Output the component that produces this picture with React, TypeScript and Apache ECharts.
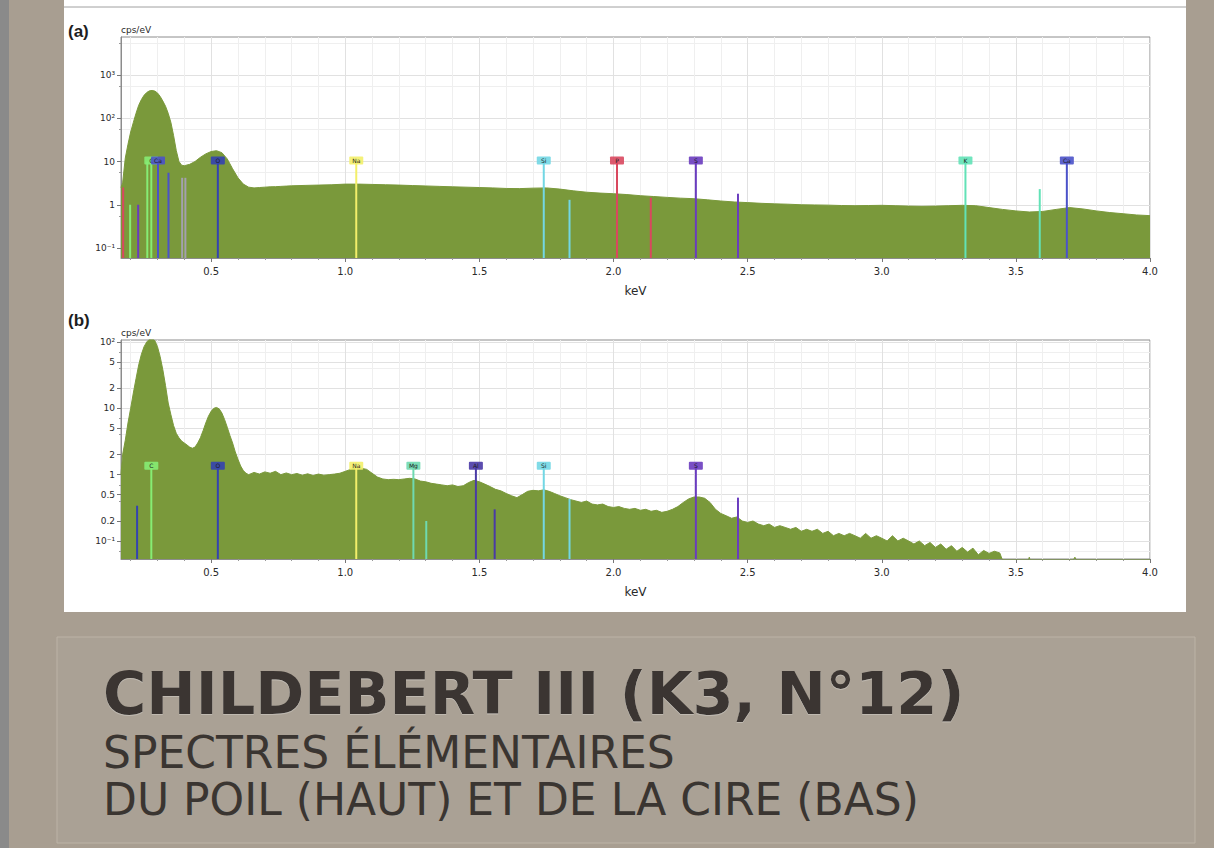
import React, { useEffect, useRef } from 'react';
import * as echarts from 'echarts';

// ---------------- data ----------------
// Spectrum (a) : poil
const energyA = [
  0.164,
  0.17, 0.18, 0.19, 0.20, 0.21, 0.22, 0.23, 0.24, 0.25, 0.26,
  0.27, 0.28, 0.29, 0.30, 0.31, 0.32, 0.33, 0.34, 0.35, 0.36,
  0.37, 0.38, 0.39, 0.40,
  0.42, 0.44, 0.46, 0.48, 0.50, 0.52, 0.54, 0.56, 0.58, 0.60,
  0.62, 0.64, 0.66, 0.68, 0.70, 0.72, 0.74, 0.76, 0.78, 0.80,
  0.85, 0.90, 0.95, 1.00,
  1.05, 1.10, 1.15, 1.20, 1.25, 1.30, 1.35, 1.40, 1.45, 1.50,
  1.55, 1.60, 1.65, 1.70, 1.75, 1.80, 1.85, 1.90, 1.95, 2.00,
  2.05, 2.10, 2.15, 2.20, 2.25, 2.30, 2.35, 2.40, 2.45, 2.50,
  2.55, 2.60, 2.65, 2.70, 2.75, 2.80, 2.85, 2.90, 2.95, 3.00,
  3.05, 3.10, 3.15, 3.20, 3.25, 3.30, 3.35, 3.40, 3.45, 3.50,
  3.55, 3.60, 3.65, 3.70, 3.75, 3.80, 3.85, 3.90, 3.95, 4.00,
];
const countsA = [
  2.5,
  3.2, 12, 25, 48, 80, 130, 200, 270, 340, 395,
  430, 440, 425, 385, 320, 250, 190, 130, 80, 40,
  18, 10, 8.2, 8,
  8.6, 10, 12.5, 15, 17, 17.8, 16, 11.5, 6.8, 4.2,
  3.0, 2.55, 2.45, 2.5, 2.55, 2.6, 2.62, 2.66, 2.7, 2.74,
  2.8, 2.85, 2.9, 3.0,
  3.0, 2.95, 2.9, 2.85, 2.78, 2.72, 2.66, 2.6, 2.55, 2.5,
  2.45, 2.38, 2.36, 2.42, 2.45, 2.3, 2.1, 1.95, 1.86, 1.8,
  1.72, 1.62, 1.55, 1.48, 1.42, 1.38, 1.3, 1.22, 1.16, 1.12,
  1.08, 1.05, 1.03, 1.0, 0.99, 0.98, 0.96, 0.95, 0.96, 0.97,
  0.95, 0.93, 0.92, 0.93, 0.95, 0.97, 0.95, 0.86, 0.78, 0.72,
  0.68, 0.7, 0.78, 0.86, 0.8, 0.72, 0.66, 0.62, 0.58, 0.56,
];

// Spectrum (b) : cire
const energyB = [
  0.164,
  0.17, 0.18, 0.19, 0.20, 0.21, 0.22, 0.23, 0.24, 0.25, 0.26,
  0.27, 0.28, 0.29, 0.30, 0.31, 0.32, 0.33, 0.34, 0.35, 0.36,
  0.37, 0.38, 0.39, 0.40, 0.41, 0.42, 0.43, 0.44, 0.45, 0.46,
  0.47, 0.48, 0.49, 0.50, 0.51, 0.52, 0.53, 0.54, 0.55, 0.56,
  0.57, 0.58, 0.59, 0.60, 0.61, 0.62, 0.63, 0.64,
  0.66, 0.68, 0.70, 0.72, 0.74, 0.76, 0.78, 0.80, 0.82, 0.84,
  0.86, 0.88, 0.90, 0.92, 0.94, 0.96, 0.98, 1.00, 1.02, 1.04,
  1.06, 1.08, 1.10, 1.12, 1.14, 1.16, 1.18, 1.20, 1.22, 1.24,
  1.26, 1.28, 1.30, 1.32, 1.34, 1.36, 1.38, 1.40, 1.42, 1.44,
  1.46, 1.48, 1.50, 1.52, 1.54, 1.56, 1.58, 1.60, 1.62, 1.64,
  1.66, 1.68, 1.70, 1.72, 1.74, 1.76, 1.78, 1.80, 1.82, 1.84,
  1.86, 1.88, 1.90, 1.92, 1.94, 1.96, 1.98, 2.00, 2.02, 2.04,
  2.06, 2.08, 2.10, 2.12, 2.14, 2.16, 2.18, 2.20, 2.22, 2.24,
  2.26, 2.28, 2.30, 2.32, 2.34, 2.36, 2.38, 2.40, 2.42, 2.44,
  2.46, 2.48, 2.50, 2.52, 2.54, 2.56, 2.58, 2.60, 2.62, 2.64,
  2.66, 2.68, 2.70, 2.72, 2.74, 2.76, 2.78, 2.80, 2.82, 2.84,
  2.86, 2.88, 2.90, 2.92, 2.94, 2.96, 2.98, 3.00, 3.02, 3.04,
  3.06, 3.08, 3.10, 3.12, 3.14, 3.16, 3.18, 3.20, 3.22, 3.24,
  3.26, 3.28, 3.30, 3.32, 3.34, 3.36, 3.38, 3.40, 3.42, 3.44,
  3.46, 3.50, 3.54, 3.55, 3.56, 3.70, 3.72, 3.74, 4.00,
];
const countsB = [
  1.0,
  2.0, 3.3, 6, 10, 17, 28, 45, 65, 85, 100,
  110, 112, 105, 85, 60, 38, 22, 12, 8, 5.5,
  4.2, 3.6, 3.2, 3.0, 2.8, 2.6, 2.5, 2.6, 3.0, 3.6,
  4.6, 6, 7.6, 9, 10, 10.3, 9.8, 8.5, 6.8, 5.2,
  3.9, 3.0, 2.2, 1.7, 1.35, 1.15, 1.05, 1.0,
  1.08, 1.02, 1.1, 1.05, 1.12, 1.0, 1.06, 1.0, 1.04, 0.98,
  1.03, 0.97, 1.02, 0.98, 1.0, 1.02, 1.05, 1.12, 1.2, 1.28,
  1.25, 1.2, 1.05, 0.92, 0.86, 0.84, 0.85, 0.84, 0.86, 0.88,
  0.86, 0.8, 0.78, 0.74, 0.72, 0.7, 0.68, 0.7, 0.66, 0.68,
  0.76, 0.82, 0.78, 0.72, 0.66, 0.6, 0.57, 0.52, 0.48, 0.45,
  0.5, 0.56, 0.58, 0.57, 0.59, 0.56, 0.52, 0.48, 0.45, 0.42,
  0.4, 0.38, 0.4, 0.36, 0.35, 0.36, 0.33, 0.32, 0.33, 0.31,
  0.3, 0.31, 0.29, 0.3, 0.28, 0.29, 0.27, 0.28, 0.3, 0.33,
  0.38, 0.43, 0.46, 0.46, 0.44, 0.38, 0.3, 0.26, 0.24, 0.22,
  0.23, 0.2, 0.19, 0.2, 0.18, 0.17, 0.18, 0.16, 0.17, 0.16,
  0.15, 0.16, 0.14, 0.15, 0.14, 0.15, 0.13, 0.14, 0.12, 0.13,
  0.12, 0.13, 0.12, 0.11, 0.13, 0.11, 0.12, 0.11, 0.1, 0.12,
  0.1, 0.11, 0.1, 0.09, 0.1, 0.085, 0.095, 0.08, 0.09, 0.075,
  0.085, 0.07, 0.08, 0.068, 0.078, 0.062, 0.072, 0.065, 0.07, 0.066,
  0.04, 0.04, 0.04, 0.057, 0.04, 0.04, 0.057, 0.04, 0.04,
];

// Element lines, spectrum (a)
const linesAEnergy = [0.172, 0.198, 0.228, 0.262, 0.277, 0.302, 0.341, 0.392, 0.404, 0.525, 1.041, 1.74, 1.836, 2.013, 2.139, 2.307, 2.464, 3.312, 3.589, 3.69];
const linesAElement = ['P', 'C', 'S', 'C', 'C', 'Ca', 'Ca', 'N', 'N', 'O', 'Na', 'Si', 'Si', 'P', 'P', 'S', 'S', 'K', 'K', 'Ca'];
const linesAHeight = [2.5, 1.0, 1.0, 10, 10, 10, 5.5, 4.2, 4.2, 10, 10, 10, 1.3, 10, 1.45, 10, 1.8, 10, 2.3, 10];
const linesALabeled = [false, false, false, false, true, true, false, false, false, true, true, true, false, true, false, true, false, true, false, true];

// Element lines, spectrum (b)
const linesBEnergy = [0.224, 0.277, 0.525, 1.041, 1.254, 1.302, 1.487, 1.557, 1.74, 1.836, 2.307, 2.464];
const linesBElement = ['O', 'C', 'O', 'Na', 'Mg', 'Mg', 'Al', 'Al', 'Si', 'Si', 'S', 'S'];
const linesBHeight = [0.34, 1.32, 1.32, 1.32, 1.32, 0.2, 1.32, 0.3, 1.32, 0.43, 1.32, 0.45];
const linesBLabeled = [false, true, true, true, true, false, true, false, true, false, true, false];

const xTicks = [0.5, 1.0, 1.5, 2.0, 2.5, 3.0, 3.5, 4.0];
const yTicksA = [0.1, 1, 10, 100, 1000];
const yTickTextA = ['10⁻¹', '1', '10', '10²', '10³'];
const yTicksB = [0.1, 0.2, 0.5, 1, 2, 5, 10, 20, 50, 100];
const yTickTextB = ['10⁻¹', '0.2', '0.5', '1', '2', '5', '10', '2', '5', '10²'];

const titleText = 'CHILDEBERT III (K3, N°12)';
const subtitle1 = 'SPECTRES ÉLÉMENTAIRES';
const subtitle2 = 'DU POIL (HAUT) ET DE LA CIRE (BAS)';

// ---------------- styles ----------------
const ELEMENT_COLORS: Record<string, string> = {
  C: '#86ec74',
  Ca: '#4b52c9',
  N: '#a3a0ae',
  O: '#3443b0',
  Na: '#f3ef6a',
  Mg: '#6fd9b0',
  Al: '#4a3aa6',
  Si: '#72d7e4',
  P: '#d9485f',
  S: '#6a3cbf',
  K: '#62e2b7',
};
const GREEN = '#7a993b';
const X_MIN = 0.164;
const X_MAX = 4.0;
const Y_A = [0.0587, 7570];
const Y_B = [0.0535, 107];

function tickFormatter(ticks: number[], texts: string[]) {
  return (v: number) => {
    const i = ticks.findIndex((t) => Math.abs(t - v) / t < 1e-3);
    return i >= 0 ? texts[i] : '';
  };
}

function markerSeries(idx: number, energies: number[], heights: number[], elements: string[], labeled: boolean[], yMin: number) {
  return {
    type: 'custom',
    xAxisIndex: idx,
    yAxisIndex: idx,
    z: 4,
    silent: true,
    data: energies.map((e, i) => [e, heights[i], i]),
    encode: { x: 0, y: 1 },
    renderItem: (_params: any, api: any) => {
      const i = api.value(2) as number;
      const e = api.value(0) as number;
      const top = api.coord([e, api.value(1)]);
      const bot = api.coord([e, yMin]);
      const color = ELEMENT_COLORS[elements[i]];
      const children: any[] = [
        { type: 'line', shape: { x1: top[0], y1: top[1], x2: bot[0], y2: bot[1] }, style: { stroke: color, lineWidth: 2 } },
      ];
      if (labeled[i]) {
        children.push({ type: 'rect', shape: { x: top[0] - 7, y: top[1] - 5, width: 14, height: 8, r: 1 }, style: { fill: color, opacity: 0.9 } });
        children.push({
          type: 'text', x: top[0], y: top[1] - 1,
          style: { text: elements[i], fontSize: 6, fill: '#1c1c1c', align: 'center', verticalAlign: 'middle', fontFamily: 'DejaVu Sans' },
        });
      }
      return { type: 'group', children };
    },
  };
}

function xAxisOf(idx: number) {
  return {
    type: 'value',
    gridIndex: idx,
    min: X_MIN,
    max: X_MAX,
    splitNumber: 8,
    minInterval: 0.5,
    maxInterval: 0.5,
    axisLine: { show: true, lineStyle: { color: '#8c8c8c' } },
    axisTick: { show: true, customValues: xTicks, length: 4, lineStyle: { color: '#777' } },
    minorTick: { show: true, splitNumber: 5, length: 2, lineStyle: { color: '#999' } },
    axisLabel: { customValues: xTicks, formatter: (v: number) => v.toFixed(1), fontSize: 10, color: '#2a2a2a', margin: 8, fontFamily: 'DejaVu Sans' },
    splitLine: { show: true, lineStyle: { color: '#e1e1e1', width: 1 } },
    minorSplitLine: { show: true, lineStyle: { color: '#efefef', width: 1 } },
    name: 'keV',
    nameLocation: 'middle',
    nameGap: 27,
    nameTextStyle: { fontSize: 12, color: '#2a2a2a', fontFamily: 'DejaVu Sans' },
  };
}

function yAxisOf(idx: number, range: number[], ticks: number[], texts: string[], minorSplit: number) {
  return {
    type: 'log',
    logBase: 10,
    gridIndex: idx,
    min: range[0],
    max: range[1],
    axisLine: { show: true, lineStyle: { color: '#8c8c8c' } },
    axisTick: { show: true, customValues: ticks, length: 4, lineStyle: { color: '#777' } },
    minorTick: { show: true, splitNumber: minorSplit, length: 2, lineStyle: { color: '#999' } },
    axisLabel: { customValues: ticks, formatter: tickFormatter(ticks, texts), fontSize: 9, color: '#2a2a2a', margin: 6, fontFamily: 'DejaVu Sans' },
    splitLine: { show: true, lineStyle: { color: '#e1e1e1', width: 1 } },
    minorSplitLine: { show: true, lineStyle: { color: '#efefef', width: 1 } },
    name: 'cps/eV',
    nameLocation: 'end',
    nameGap: 3,
    nameTextStyle: { fontSize: 9, color: '#2a2a2a', align: 'left', fontFamily: 'DejaVu Sans' },
  };
}

function spectrumSeries(idx: number, energies: number[], counts: number[]) {
  return {
    type: 'line',
    xAxisIndex: idx,
    yAxisIndex: idx,
    data: energies.map((e, i) => [e, counts[i]]),
    symbol: 'none',
    showSymbol: false,
    silent: true,
    clip: true,
    z: 2,
    lineStyle: { color: GREEN, width: 1 },
    areaStyle: { color: GREEN, opacity: 1, origin: 'start' },
  };
}

export default function App() {
  const ref = useRef<HTMLDivElement>(null);
  useEffect(() => {
    if (!ref.current) return;
    const chart = echarts.init(ref.current, undefined, { renderer: 'svg' });
    const textColor = '#3a3531';
    chart.setOption({
      animation: false,
      backgroundColor: '#a89e91',
      grid: [
        { left: 121, top: 37, width: 1029, height: 221, show: true, backgroundColor: '#ffffff', borderColor: '#8c8c8c', borderWidth: 1 },
        { left: 121, top: 340, width: 1029, height: 219, show: true, backgroundColor: '#ffffff', borderColor: '#8c8c8c', borderWidth: 1 },
      ],
      xAxis: [xAxisOf(0), xAxisOf(1)],
      yAxis: [yAxisOf(0, Y_A, yTicksA, yTickTextA, 2), yAxisOf(1, Y_B, yTicksB, yTickTextB, 3)],
      series: [
        spectrumSeries(0, energyA, countsA),
        markerSeries(0, linesAEnergy, linesAHeight, linesAElement, linesALabeled, Y_A[0]),
        spectrumSeries(1, energyB, countsB),
        markerSeries(1, linesBEnergy, linesBHeight, linesBElement, linesBLabeled, Y_B[0]),
      ],
      graphic: [
        { type: 'rect', z: -10, shape: { x: 0, y: 0, width: 9, height: 848 }, style: { fill: '#8a8a8a' } },
        { type: 'rect', z: -10, shape: { x: 64, y: 0, width: 1122, height: 612 }, style: { fill: '#ffffff' } },
        { type: 'line', z: -9, shape: { x1: 64, y1: 7, x2: 1186, y2: 7 }, style: { stroke: '#a0a0a0', lineWidth: 1 } },
        { type: 'rect', z: -10, shape: { x: 57, y: 637, width: 1138, height: 206 }, style: { fill: '#aaa195', stroke: '#bcb3a6', lineWidth: 1 } },
        { type: 'text', x: 68, y: 31, style: { text: '(a)', fontSize: 17, fontWeight: 'bold', fill: '#1e1e1e', fontFamily: 'Liberation Sans', verticalAlign: 'middle' } },
        { type: 'text', x: 68, y: 320, style: { text: '(b)', fontSize: 17, fontWeight: 'bold', fill: '#1e1e1e', fontFamily: 'Liberation Sans', verticalAlign: 'middle' } },
        {
          type: 'text', x: 103, y: 693,
          style: { text: titleText, fontSize: 59, lineHeight: 56, fontWeight: 'bold', fill: textColor, fontFamily: 'DejaVu Sans', verticalAlign: 'middle', textShadowColor: 'rgba(255,255,255,0.25)', textShadowOffsetY: 1, textShadowBlur: 1 },
        },
        {
          type: 'text', x: 103, y: 752,
          style: { text: subtitle1, fontSize: 44, lineHeight: 42, fill: textColor, fontFamily: 'DejaVu Sans', verticalAlign: 'middle' },
        },
        {
          type: 'text', x: 103, y: 799,
          style: { text: subtitle2, fontSize: 44, lineHeight: 42, fill: textColor, fontFamily: 'DejaVu Sans', verticalAlign: 'middle' },
        },
      ],
    });
    return () => chart.dispose();
  }, []);
  return <div ref={ref} style={{ position: 'absolute', left: 0, top: 0, width: 1214, height: 848 }} />;
}
